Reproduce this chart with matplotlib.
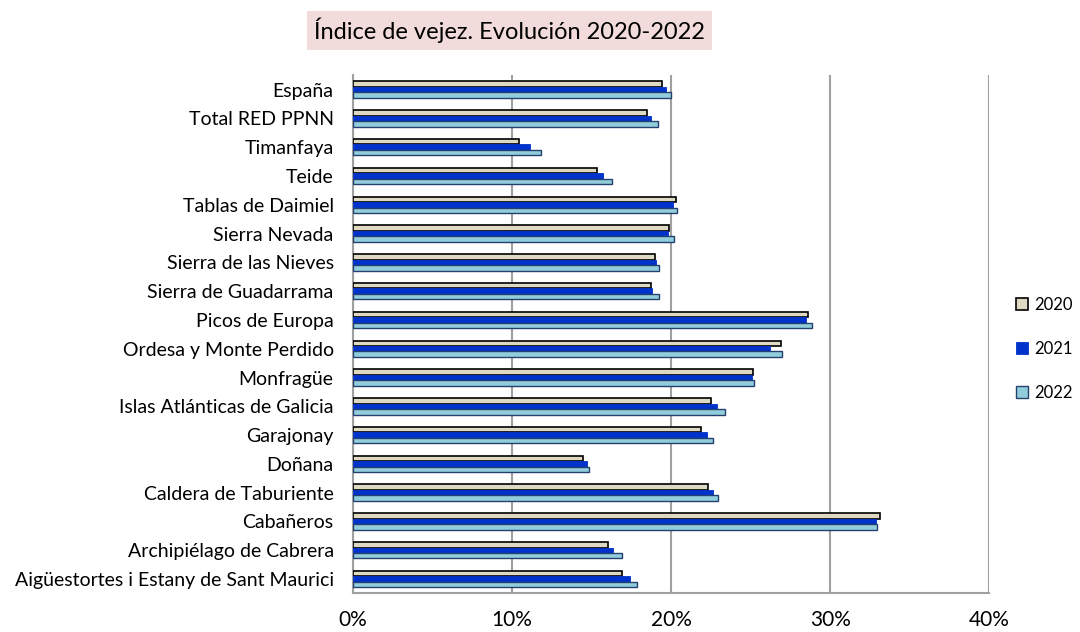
import matplotlib
matplotlib.use("Agg")
import matplotlib.pyplot as plt
import numpy as np
from matplotlib.ticker import PercentFormatter

plt.rcParams['font.family'] = ['Lato', 'DejaVu Sans']

categories = ["España", "Total RED PPNN", "Timanfaya", "Teide", "Tablas de Daimiel",
              "Sierra Nevada", "Sierra de las Nieves", "Sierra de Guadarrama",
              "Picos de Europa", "Ordesa y Monte Perdido", "Monfragüe",
              "Islas Atlánticas de Galicia", "Garajonay", "Doñana",
              "Caldera de Taburiente", "Cabañeros", "Archipiélago de Cabrera",
              "Aigüestortes i Estany de Sant Maurici"]
v2020 = [19.45, 18.45, 10.4, 15.35, 20.33, 19.83, 18.95, 18.72, 28.6, 26.9, 25.16,
         22.5, 21.9, 14.46, 22.33, 33.14, 16.05, 16.9]
v2021 = [19.7, 18.74, 11.09, 15.72, 20.1, 19.79, 19.04, 18.79, 28.5, 26.2, 25.09,
         22.9, 22.26, 14.73, 22.6, 32.87, 16.37, 17.4]
v2022 = [20.0, 19.16, 11.8, 16.3, 20.38, 20.17, 19.25, 19.25, 28.88, 26.95, 25.2,
         23.4, 22.65, 14.84, 22.96, 32.94, 16.88, 17.85]
xticks = [0, 10, 20, 30, 40]
title = "Índice de vejez. Evolución 2020-2022"

fig = plt.figure(figsize=(10.8, 6.32), dpi=100)
ax = fig.add_axes([0.327, 0.061, 0.589, 0.82])

y = np.arange(len(categories))
h = 0.19
ax.barh(y - h, v2020, height=h, color="#ddd9c3", edgecolor="black", linewidth=1.2, label="2020", zorder=3)
ax.barh(y, v2021, height=h, color="#0033cc", edgecolor="#0033cc", linewidth=0.6, label="2021", zorder=3)
ax.barh(y + h, v2022, height=h, color="#92cddc", edgecolor="#24406e", linewidth=1.0, label="2022", zorder=3)

ax.set_ylim(len(categories) - 0.5, -0.5)
ax.set_yticks(y)
ax.set_yticklabels(categories, fontsize=14)
ax.set_xlim(0, 40)
ax.set_xticks(xticks)
ax.xaxis.set_major_formatter(PercentFormatter(decimals=0))
ax.tick_params(axis='x', labelsize=15, length=0, pad=12)
ax.tick_params(axis='y', length=0, pad=14)
ax.grid(axis='x', color="#a0a0a0", linewidth=1.5, zorder=0)
for s in ["top", "right"]:
    ax.spines[s].set_visible(False)
for s in ["left", "bottom"]:
    ax.spines[s].set_color("#a0a0a0")
    ax.spines[s].set_linewidth(1.5)

leg = fig.legend(loc="center left", bbox_to_anchor=(0.927, 0.448), frameon=False,
                 fontsize=12, labelspacing=1.67, handlelength=0.7, handleheight=0.7,
                 handletextpad=0.4)

fig.text(0.472, 0.952, title, ha="center", va="center", fontsize=17,
         bbox=dict(boxstyle="square,pad=0.3", facecolor="#f2dcdb", edgecolor="none"))

fig.savefig("out.png", dpi=100)
